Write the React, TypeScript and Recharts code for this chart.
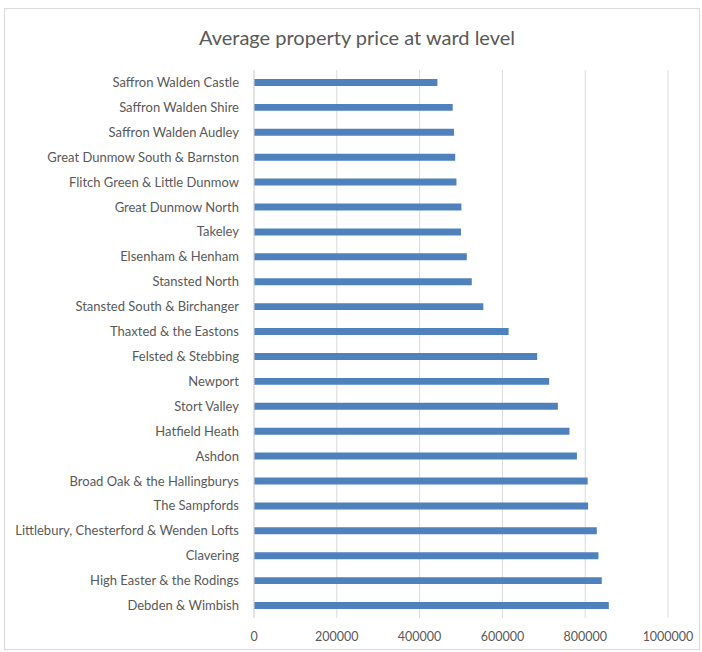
import React from "react";
import { BarChart, Bar, XAxis, YAxis, CartesianGrid } from "recharts";

const wards: string[] = [
  "Saffron Walden Castle",
  "Saffron Walden Shire",
  "Saffron Walden Audley",
  "Great Dunmow South & Barnston",
  "Flitch Green & Little Dunmow",
  "Great Dunmow North",
  "Takeley",
  "Elsenham & Henham",
  "Stansted North",
  "Stansted South & Birchanger",
  "Thaxted & the Eastons",
  "Felsted & Stebbing",
  "Newport",
  "Stort Valley",
  "Hatfield Heath",
  "Ashdon",
  "Broad Oak & the Hallingburys",
  "The Sampfords",
  "Littlebury, Chesterford & Wenden Lofts",
  "Clavering",
  "High Easter & the Rodings",
  "Debden & Wimbish",
];

const prices: number[] = [
  443000, 480000, 483000, 486000, 489000, 501000, 500000, 514000, 526000,
  554000, 615000, 684000, 713000, 734000, 762000, 780000, 806000, 807000,
  828000, 832000, 840000, 857000,
];

const xTicks: number[] = [0, 200000, 400000, 600000, 800000, 1000000];

const data = wards.map((w, i) => ({ ward: w, price: prices[i] }));

const FONT = "Lato, 'Open Sans', sans-serif";

const CategoryTick = (props: any) => {
  const { x, y, payload } = props;
  return (
    <text
      x={x - 13}
      y={y}
      dy="0.35em"
      textAnchor="end"
      fontSize={13}
      fill="#595959"
      fontFamily={FONT}
    >
      {payload.value}
    </text>
  );
};

export default function App() {
  return (
    <div style={{ position: "absolute", left: 0, top: 0, width: 702, height: 652, background: "#fff" }}>
      <div
        style={{
          position: "absolute",
          left: 4,
          top: 8,
          width: 696,
          height: 642,
          border: "1px solid #d9d9d9",
          boxSizing: "border-box",
        }}
      />
      <div
        style={{
          position: "absolute",
          left: 0,
          top: 23,
          width: 714,
          textAlign: "center",
          fontFamily: FONT,
          fontSize: 20,
          color: "#595959",
          lineHeight: "28px",
        }}
      >
        Average property price at ward level
      </div>
      <div style={{ position: "absolute", left: 0, top: 0 }}>
        <BarChart
          width={702}
          height={652}
          data={data}
          layout="vertical"
          margin={{ top: 70, right: 34, bottom: 14, left: 4 }}
          barCategoryGap="64%"
        >
          <CartesianGrid horizontal={false} vertical stroke="#d9d9d9" />
          <XAxis
            type="number"
            domain={[0, 1000000]}
            ticks={xTicks}
            axisLine={false}
            tickLine={false}
            tickMargin={8}
            height={20}
            tick={{ fontSize: 12.5, fill: "#595959", fontFamily: FONT }}
            interval={0}
          />
          <YAxis
            type="category"
            dataKey="ward"
            width={250}
            axisLine={{ stroke: "#d9d9d9" }}
            tickLine={false}
            tickSize={0}
            interval={0}
            tick={<CategoryTick />}
          />
          <Bar dataKey="price" fill="#4F81BD" isAnimationActive={false} />
        </BarChart>
      </div>
    </div>
  );
}
